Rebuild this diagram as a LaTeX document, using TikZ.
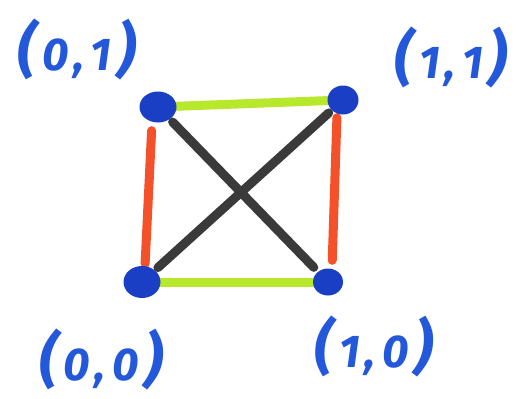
\documentclass[tikz,border=0pt]{standalone}
\usepackage{fontspec}
\setmainfont{Fira Sans}
\usetikzlibrary{shapes.geometric,backgrounds}
\definecolor{penblue}{HTML}{2458DA}
\definecolor{dotblue}{HTML}{1A3FC4}
\definecolor{pengreen}{HTML}{B8E82C}
\definecolor{penred}{HTML}{F4502A}
\definecolor{penblack}{HTML}{3A3A3A}
\tikzset{
  dotnode/.style={ellipse,fill=dotblue,inner sep=0pt},
  lbl/.style={text=penblue,font=\fontsize{46}{46}\selectfont\bfseries\itshape,inner sep=0pt},
  pen/.style={line width=9pt,line cap=round},
}
\newcommand{\bigpar}[1]{{\fontsize{60}{60}\selectfont\raisebox{0.01em}{#1}}}
\newcommand{\crd}[2]{\bigpar{(}\kern0.12em#1\kern0.1em,\kern0.14em#2\kern0.12em\bigpar{)}}
\begin{document}
\begin{tikzpicture}[x=1pt,y=-1pt]
\useasboundingbox (0,0) rectangle (523,399);
\node[dotnode,minimum width=37pt,minimum height=31pt] (tl) at (158,107) {};
\node[dotnode,minimum width=31pt,minimum height=29pt] (tr) at (343,100) {};
\node[dotnode,minimum width=37pt,minimum height=32pt] (bl) at (142,282) {};
\node[dotnode,minimum width=30pt,minimum height=27pt] (br) at (328,282) {};
\begin{scope}[on background layer]
\draw[pen,pengreen] (tl) -- (tr);
\draw[pen,pengreen] (bl) -- (br);
\draw[pen,penred,shorten <=8pt,shorten >=2pt] ([xshift=-6pt]tl.south) -- ([xshift=3pt]bl.north);
\draw[pen,penred,shorten <=3pt,shorten >=8pt] ([xshift=-6pt]tr.south) -- ([xshift=4pt]br.north);
\draw[pen,penblack,shorten <=4pt,shorten >=6pt] (tl) -- (br);
\draw[pen,penblack,shorten <=4pt,shorten >=4pt] (tr) -- (bl);
\end{scope}
\node[lbl] (l01) at (77,49) {\crd{0}{1}};
\node[lbl] (l11) at (451,57) {\crd{1}{1}};
\node[lbl] (l00) at (101,359) {\crd{0}{0}};
\node[lbl] (l10) at (374,346) {\crd{1}{0}};
\end{tikzpicture}
\end{document}
